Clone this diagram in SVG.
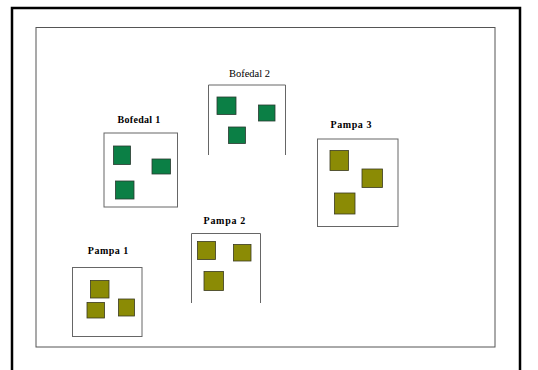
<svg xmlns="http://www.w3.org/2000/svg" width="538" height="370" viewBox="0 0 538 370">
<style>
.frame{fill:none;stroke:#000;stroke-width:2.5}
.inner{fill:#fff;stroke:#555;stroke-width:1}
.box{fill:#fff;stroke:#666;stroke-width:1}
.g{fill:#0b7f45;stroke:#2a3a30;stroke-width:0.8}
.o{fill:#8b8b05;stroke:#3a3a20;stroke-width:0.8}
.lb{font-family:"Liberation Serif",serif;font-size:10px;font-weight:bold;text-anchor:middle;fill:#000}
.ln{font-family:"Liberation Serif",serif;font-size:10.5px;text-anchor:middle;fill:#000}
</style>
<rect width="538" height="370" fill="#fff"/>
<path class="frame" d="M12,372 V8 H520 V372"/>
<rect class="inner" x="36" y="27.5" width="459" height="319.5"/>
<g id="bofedal1">
<text class="lb" x="139" y="123" letter-spacing="0.3">Bofedal 1</text>
<rect class="box" x="104" y="133" width="73.5" height="74"/>
<rect class="g" x="113.5" y="146" width="17" height="18.5"/>
<rect class="g" x="152" y="159" width="18.5" height="15"/>
<rect class="g" x="115.5" y="181" width="18.5" height="18"/>
</g>
<g id="bofedal2">
<text class="ln" x="249.5" y="77">Bofedal 2</text>
<path class="box" d="M208.5,155 V85 H285.5 V155"/>
<rect class="g" x="217" y="97" width="19" height="17.5"/>
<rect class="g" x="258.5" y="105" width="16.5" height="16"/>
<rect class="g" x="228.5" y="127" width="17" height="16.5"/>
</g>
<g id="pampa3">
<text class="lb" x="351.3" y="127.5" letter-spacing="0.6">Pampa 3</text>
<rect class="box" x="317.5" y="139" width="80.5" height="87.5"/>
<rect class="o" x="330" y="150.5" width="18.5" height="20"/>
<rect class="o" x="362" y="169" width="20.5" height="18.5"/>
<rect class="o" x="334.5" y="193" width="20.5" height="21"/>
</g>
<g id="pampa1">
<text class="lb" x="108.3" y="254" letter-spacing="0.5">Pampa 1</text>
<rect class="box" x="72.5" y="267.5" width="69.5" height="69"/>
<rect class="o" x="90.5" y="280.5" width="18.5" height="17.5"/>
<rect class="o" x="87" y="302.5" width="17.5" height="15.5"/>
<rect class="o" x="118.5" y="299" width="16" height="17"/>
</g>
<g id="pampa2">
<text class="lb" x="224.8" y="224" letter-spacing="0.7">Pampa 2</text>
<path class="box" d="M191.5,303 V233.5 H260.5 V303"/>
<rect class="o" x="197.5" y="241.5" width="18" height="18"/>
<rect class="o" x="233.5" y="244.5" width="17.5" height="16.5"/>
<rect class="o" x="204" y="271.5" width="19.5" height="19"/>
</g>
<g id="connectors"/>
</svg>
